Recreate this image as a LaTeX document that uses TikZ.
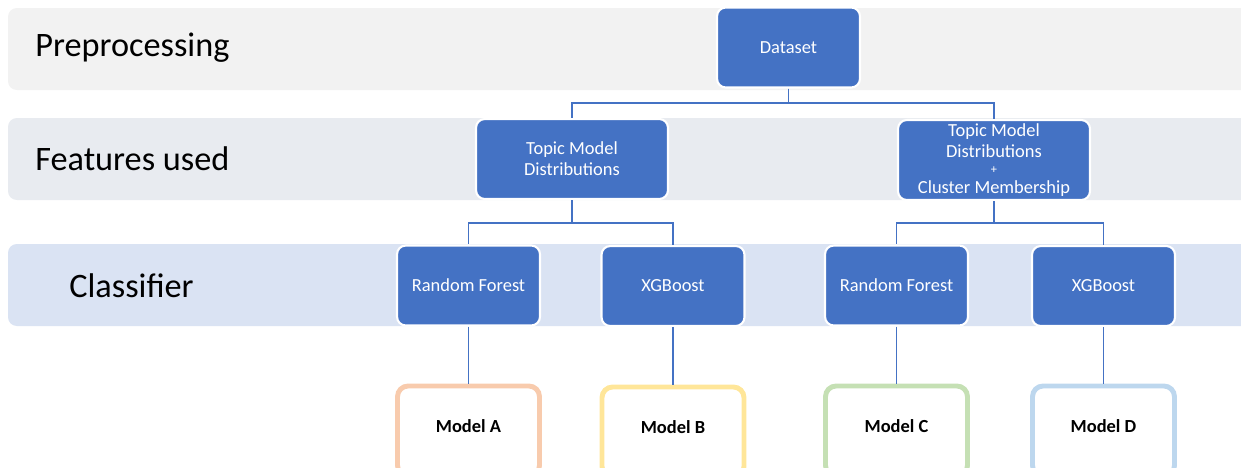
\documentclass[tikz,border=0pt]{standalone}
\usepackage{fontspec}
\setmainfont{Carlito}
\definecolor{boxblue}{HTML}{4472C4}
\definecolor{lineblue}{HTML}{4472C4}
\definecolor{bandA}{HTML}{F2F2F2}
\definecolor{bandB}{HTML}{E8EBF0}
\definecolor{bandC}{HTML}{DAE3F3}
\definecolor{peach}{HTML}{F8CBAD}
\definecolor{lightyellow}{HTML}{FFE699}
\definecolor{lightgreen}{HTML}{C5E0B4}
\definecolor{lightblue}{HTML}{BDD7EE}
\tikzset{
  band/.style={rounded corners=5pt},
  bandlabel/.style={anchor=west, font=\fontsize{19.5}{22}\selectfont, text=black, inner sep=0pt},
  bluebox/.style={draw=white, line width=1.2pt, fill=boxblue, rounded corners=5pt,
    text=white, align=center, font=\fontsize{10.5}{12}\selectfont,
    minimum width=2.86cm, minimum height=1.6cm, inner sep=1pt},
  modelbox/.style={draw=#1, line width=2.8pt, fill=white, rounded corners=6pt,
    text=black, font=\bfseries\fontsize{10.5}{12}\selectfont,
    text height=7.5pt, text depth=6pt,
    minimum width=2.84cm, minimum height=1.8cm},
  conn/.style={draw=lineblue, line width=1.1pt}
}
\begin{document}
\begin{tikzpicture}[x=0.02cm,y=-0.02cm]
\useasboundingbox (0,0) rectangle (1241,467);
\clip (0,0) rectangle (1241,467);
% bands
\fill[bandA, band] (8,8) rectangle (1260,90);
\fill[bandB, band] (8,118) rectangle (1260,200);
\fill[bandC, band] (8,244) rectangle (1260,326);
\node[bandlabel] (lpre) at (35,48) {Preprocessing};
\node[bandlabel] (lfeat) at (35,159) {Features used};
\node[bandlabel] (lcls) at (69,286) {Classifier};
% blue nodes
\node[bluebox] (ds) at (788.5,47.5) {Dataset};
\node[bluebox, minimum width=3.84cm] (tmd) at (572,159) {Topic Model\\Distributions};
\node[bluebox, minimum width=3.84cm] (tmdcm) at (994,160) {Topic Model\\Distributions\\[-3pt]{\fontsize{7}{7}\selectfont +}\\[-1pt]Cluster Membership};
\node[bluebox] (rf1) at (468.5,285.5) {Random Forest};
\node[bluebox] (xg1) at (673,286) {XGBoost};
\node[bluebox] (rf2) at (896.5,285.5) {Random Forest};
\node[bluebox] (xg2) at (1103.5,286) {XGBoost};
% model nodes
\node[modelbox=peach] (ma) at (468.5,431) {Model A};
\node[modelbox=lightyellow] (mb) at (673,432) {Model B};
\node[modelbox=lightgreen] (mc) at (896.5,431) {Model C};
\node[modelbox=lightblue] (md) at (1103.5,431) {Model D};
% connectors
\draw[conn] (ds.south) -- ++(0,14) -| (tmd.north);
\draw[conn] (ds.south) -- ++(0,14) -| (tmdcm.north);
\draw[conn] (tmd.south) -- ++(0,23) -| (rf1.north);
\draw[conn] (tmd.south) -- ++(0,23) -| (xg1.north);
\draw[conn] (tmdcm.south) -- ++(0,22) -| (rf2.north);
\draw[conn] (tmdcm.south) -- ++(0,22) -| (xg2.north);
\draw[conn] (rf1.south) -- (ma.north);
\draw[conn] (xg1.south) -- (mb.north);
\draw[conn] (rf2.south) -- (mc.north);
\draw[conn] (xg2.south) -- (md.north);
\end{tikzpicture}
\end{document}
